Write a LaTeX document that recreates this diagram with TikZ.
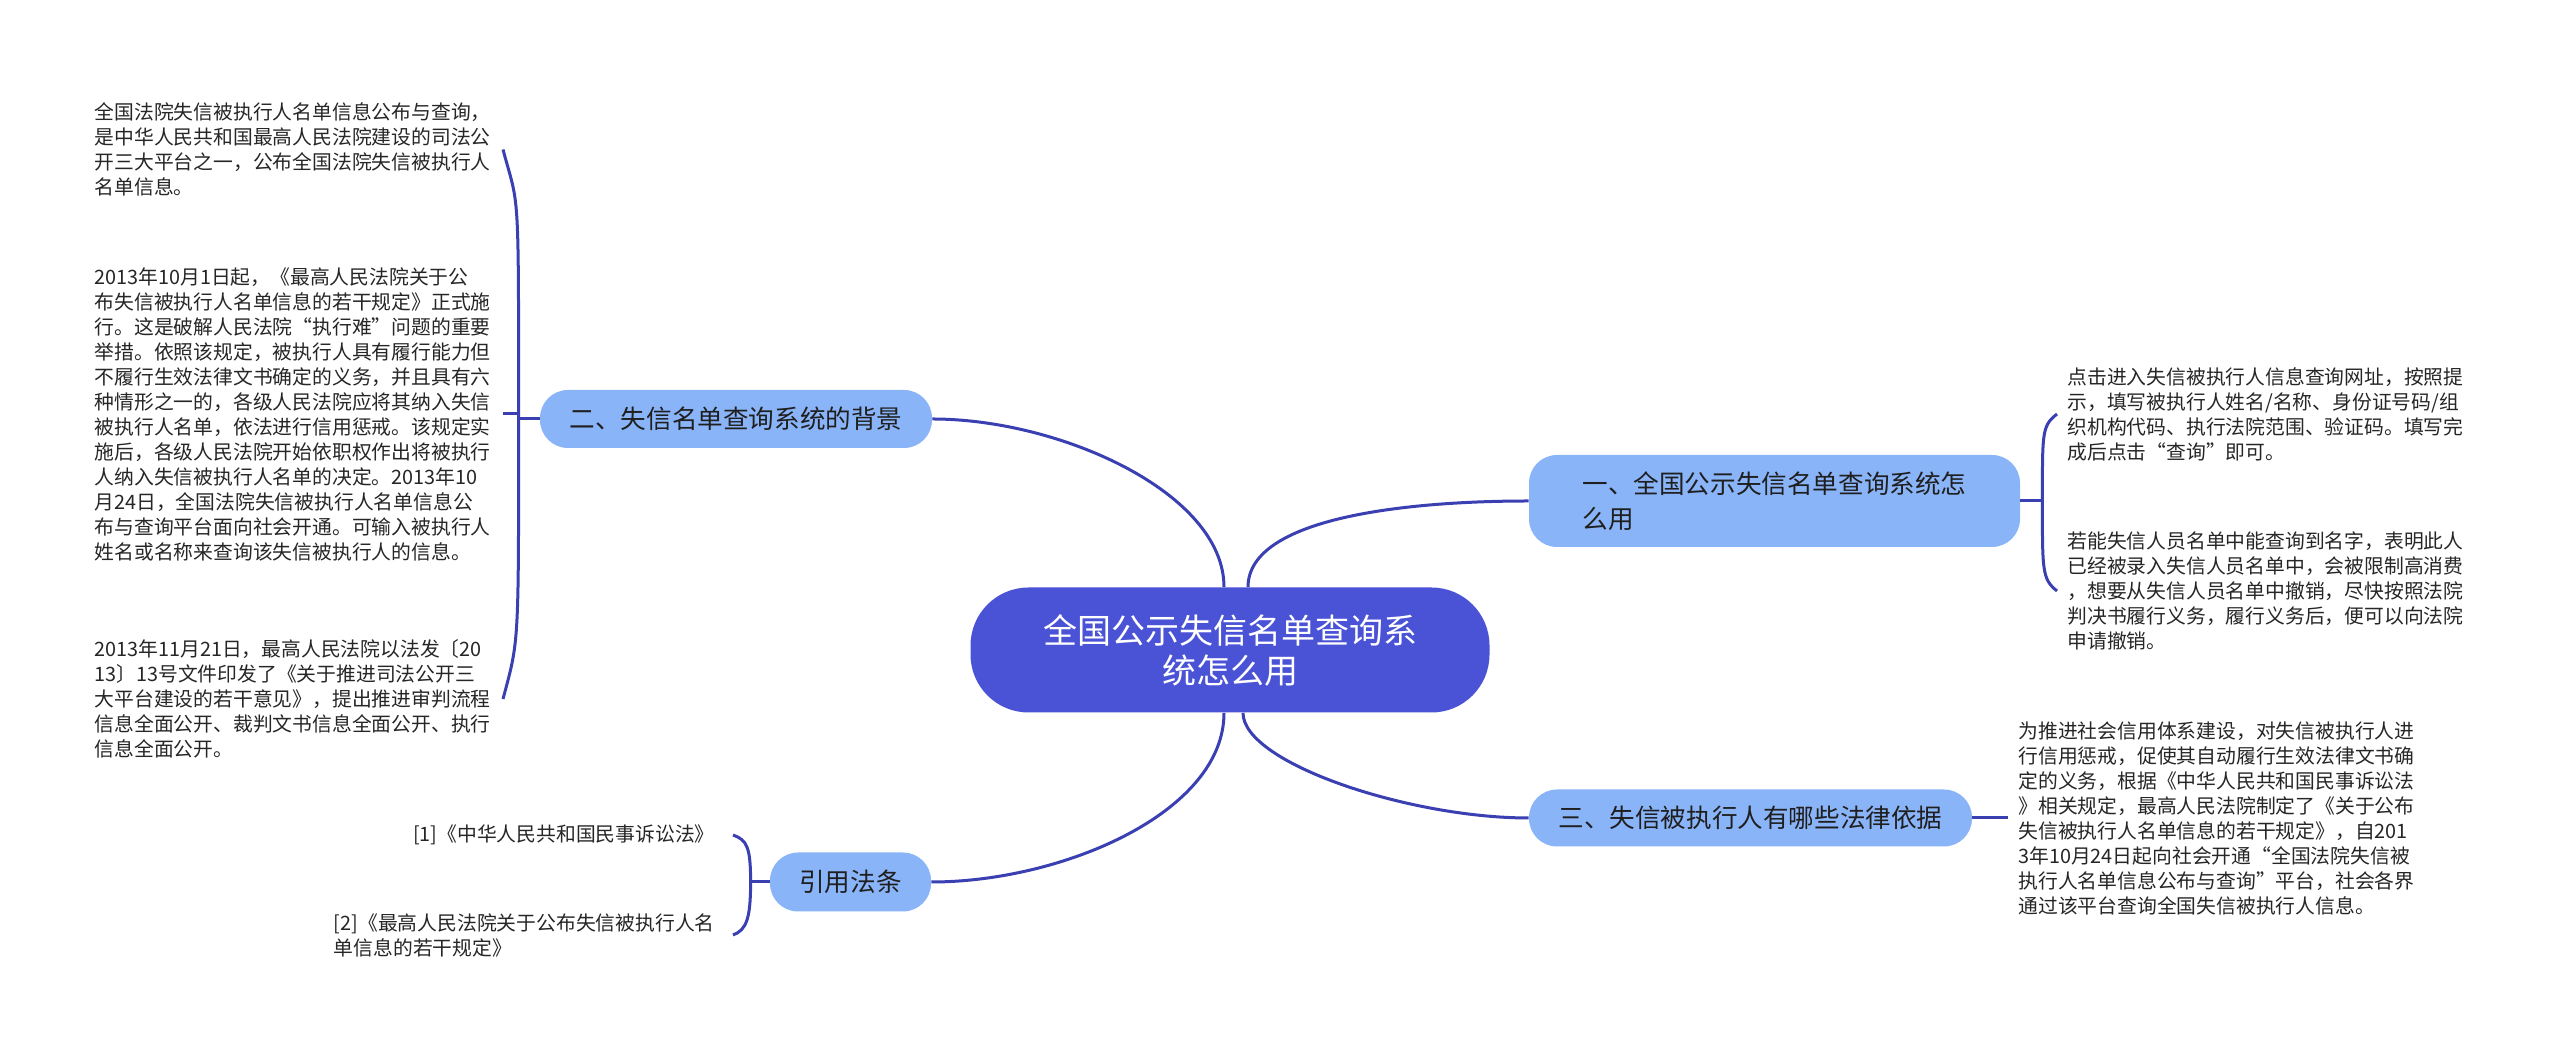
\documentclass[tikz,border=0pt]{standalone}
\usepackage{fontspec}
\setmainfont{Noto Sans CJK SC}
\usetikzlibrary{calc}
\definecolor{rootblue}{HTML}{4A52D6}
\definecolor{topicblue}{HTML}{8AB4F8}
\definecolor{linkblue}{HTML}{3A40B2}
\definecolor{leaftext}{HTML}{262626}

\begin{document}
\begin{tikzpicture}[
    x=0.5pt, y=0.5pt,
    root/.style  = {fill=rootblue, text=white, rounded corners=29pt, align=center,
                    minimum width=259.5pt, minimum height=62.5pt,
                    font=\fontsize{17pt}{20pt}\selectfont},
    topic/.style = {fill=topicblue, text=black!88, rounded corners=14pt,
                    font=\fontsize{12.8pt}{17.5pt}\selectfont},
    leaf/.style  = {text=leaftext, align=left, inner xsep=5pt, inner ysep=2pt,
                    font=\fontsize{9.9pt}{12.5pt}\selectfont},
    para/.style  = {leaf, text width=199pt},
    link/.style  = {draw=linkblue, line width=1.5pt},
]
\useasboundingbox (0,0) rectangle (2560,1054);
\fill[white] (0,0) rectangle (2560,1054);

% ---------------- root ----------------
\node[root] (root) at (1230,404) {全国公示失信名单查询系\\统怎么用};

% ---------------- topics ----------------
\node[topic, minimum width=196pt, minimum height=29pt] (bg) at (736,635)
    {二、失信名单查询系统的背景};
\node[topic, align=left, minimum width=245.5pt, minimum height=46pt] (howto) at (1774.5,553)
    {一、全国公示失信名单查询系统怎\\么用};
\node[topic, minimum width=221.5pt, minimum height=28.5pt] (basis) at (1750.5,236)
    {三、失信被执行人有哪些法律依据};
\node[topic, minimum width=80.5pt, minimum height=29.5pt] (refs) at (850.5,172)
    {引用法条};

\draw[link] ([xshift=-3pt]root.north) .. controls +(0,94) and +(128,0) .. (bg.east);
\draw[link] ([xshift=9pt]root.north) .. controls +(0,70) and +(-120,0) .. (howto.west);
\draw[link] ([xshift=6.5pt]root.south) .. controls +(0,-50) and +(-120,0) .. (basis.west);
\draw[link] ([xshift=-3pt]root.south) .. controls +(0,-100) and +(130,0) .. (refs.east);

% ---------------- background texts ----------------
\node[para, anchor=east] (bgA) at (503,904.5)
    {全国法院失信被执行人名单信息公布与查询，\\是中华人民共和国最高人民法院建设的司法公\\开三大平台之一，公布全国法院失信被执行人\\名单信息。};
\node[para, anchor=east] (bgB) at (503,640)
    {2013年10月1日起，《最高人民法院关于公\\布失信被执行人名单信息的若干规定》正式施\\行。这是破解人民法院“执行难”问题的重要\\举措。依照该规定，被执行人具有履行能力但\\不履行生效法律文书确定的义务，并且具有六\\种情形之一的，各级人民法院应将其纳入失信\\被执行人名单，依法进行信用惩戒。该规定实\\施后，各级人民法院开始依职权作出将被执行\\人纳入失信被执行人名单的决定。2013年10\\月24日，全国法院失信被执行人名单信息公\\布与查询平台面向社会开通。可输入被执行人\\姓名或名称来查询该失信被执行人的信息。};
\node[para, anchor=east] (bgC) at (503,355)
    {2013年11月21日，最高人民法院以法发〔20\\13〕13号文件印发了《关于推进司法公开三\\大平台建设的若干意见》，提出推进审判流程\\信息全面公开、裁判文书信息全面公开、执行\\信息全面公开。};

\coordinate (lbrk) at ([xshift=-10.5pt]bg.west);
\draw[link] (bg.west) -- (lbrk);
\draw[link] (lbrk) .. controls +(0,240) and +(16,-60) .. (bgA.east);
\draw[link] (lbrk) |- (bgB.east);
\draw[link] (lbrk) .. controls +(0,-230) and +(16,60) .. (bgC.east);

% ---------------- how-to texts ----------------
\node[para, anchor=west] (howA) at (2057,640)
    {点击进入失信被执行人信息查询网址，按照提\\示，填写被执行人姓名/名称、身份证号码/组\\织机构代码、执行法院范围、验证码。填写完\\成后点击“查询”即可。};
\node[para, anchor=west] (howB) at (2057,463)
    {若能失信人员名单中能查询到名字，表明此人\\已经被录入失信人员名单中，会被限制高消费\\，想要从失信人员名单中撤销，尽快按照法院\\判决书履行义务，履行义务后，便可以向法院\\申请撤销。};

\coordinate (rbrk) at ([xshift=11pt]howto.east);
\draw[link] (howto.east) -- (rbrk);
\draw[link] (rbrk) .. controls +(0,70) and +(-15,-12) .. (howA.west);
\draw[link] (rbrk) .. controls +(0,-70) and +(-15,12) .. (howB.west);

% ---------------- legal basis ----------------
\node[para, anchor=west] (basA) at (2008,236)
    {为推进社会信用体系建设，对失信被执行人进\\行信用惩戒，促使其自动履行生效法律文书确\\定的义务，根据《中华人民共和国民事诉讼法\\》相关规定，最高人民法院制定了《关于公布\\失信被执行人名单信息的若干规定》，自201\\3年10月24日起向社会开通“全国法院失信被\\执行人名单信息公布与查询”平台，社会各界\\通过该平台查询全国失信被执行人信息。};
\draw[link] (basis.east) -- (basA.west);

% ---------------- references ----------------
\node[leaf, anchor=east, inner xsep=9pt] (refA) at (733,219)
    {[1]《中华人民共和国民事诉讼法》};
\node[leaf, anchor=east, inner xsep=9pt] (refB) at (733,119)
    {[2]《最高人民法院关于公布失信被执行人名\\单信息的若干规定》};

\coordinate (bbrk) at ([xshift=-9.5pt]refs.west);
\draw[link] (refs.west) -- (bbrk);
\draw[link] (bbrk) .. controls +(0,35) and +(14,-5) .. (refA.east);
\draw[link] (bbrk) .. controls +(0,-35) and +(14,5) .. (refB.east);

\end{tikzpicture}
\end{document}
